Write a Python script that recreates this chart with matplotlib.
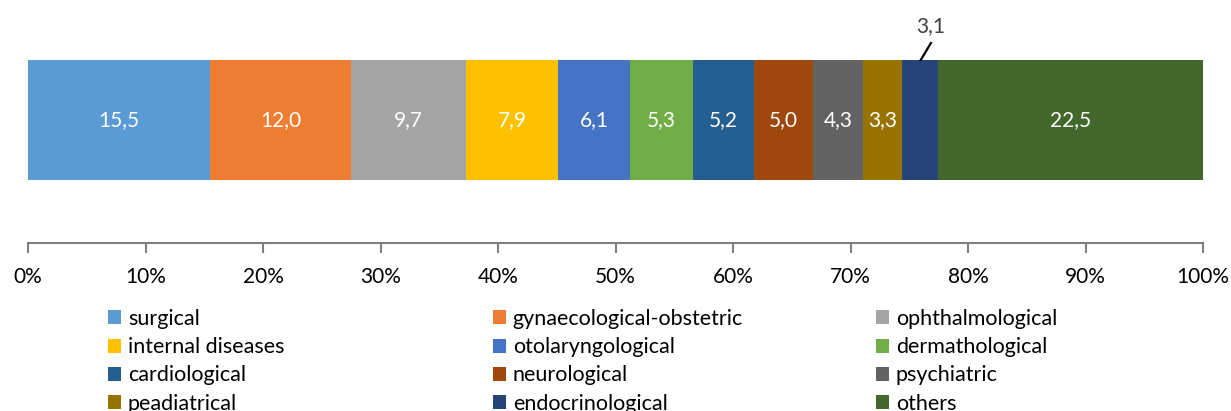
import matplotlib
matplotlib.use("Agg")
import matplotlib.pyplot as plt
from matplotlib.patches import Patch

categories = ["surgical", "gynaecological-obstetric", "ophthalmological",
              "internal diseases", "otolaryngological", "dermathological",
              "cardiological", "neurological", "psychiatric",
              "peadiatrical", "endocrinological", "others"]
values = [15.5, 12.0, 9.7, 7.9, 6.1, 5.3, 5.2, 5.0, 4.3, 3.3, 3.1, 22.5]
colors = ["#5B9BD5", "#ED7D31", "#A5A5A5", "#FFC000", "#4472C4", "#70AD47",
          "#255E91", "#9E480E", "#636363", "#997300", "#264478", "#43682B"]
tick_values = list(range(0, 101, 10))
tick_labels = [f"{t}%" for t in tick_values]

FONT = "Lato"
W, H = 1231, 411
fig = plt.figure(figsize=(W / 100, H / 100), dpi=100)
ax = fig.add_axes([28 / W, (H - 243) / H, (1203 - 28) / W, (243 - 5) / H])
ax.set_xlim(0, 100)
ax.set_ylim(0, 238)

total = sum(values)
left = 0.0
for cat, v, c in zip(categories, values, colors):
    w = v / total * 100
    ax.barh(123, w, left=left, height=120, color=c, edgecolor="none")
    lbl = f"{v:.1f}".replace(".", ",")
    if cat != "endocrinological":
        ax.text(left + w / 2, 123, lbl, ha="center",
                va="center", color="white", fontsize=15, family=FONT)
    else:
        cx = left + w / 2
        ax.plot([cx, cx + 0.97], [182, 201], color="black", lw=1.6,
                solid_capstyle="butt")
        ax.text(cx + 0.9, 217, lbl, ha="center", va="center", fontsize=15,
                family=FONT, color="#404040")
    left += w

for s in ["top", "left", "right"]:
    ax.spines[s].set_visible(False)
ax.spines["bottom"].set_color("#7F7F7F")
ax.spines["bottom"].set_linewidth(1.5)
ax.set_yticks([])
ax.set_xticks(tick_values)
ax.set_xticklabels(tick_labels, fontsize=15, family=FONT)
ax.tick_params(axis="x", direction="out", length=7, width=1.5, color="#7F7F7F", pad=10)

handles = [Patch(facecolor=c, edgecolor="none") for c in colors]
col_x = [108, 493, 876]
for col in range(3):
    idx = [col + 3 * r for r in range(4)]
    fig.legend([handles[i] for i in idx], [categories[i] for i in idx],
               loc="upper left", bbox_to_anchor=(col_x[col] / W, 1 - 309 / H),
               ncol=1, frameon=False, prop={"family": FONT, "size": 15.5},
               handlelength=0.62, handleheight=0.62, handletextpad=0.3,
               labelspacing=0.38, borderpad=0, borderaxespad=0)

fig.savefig("out.png", dpi=100)
